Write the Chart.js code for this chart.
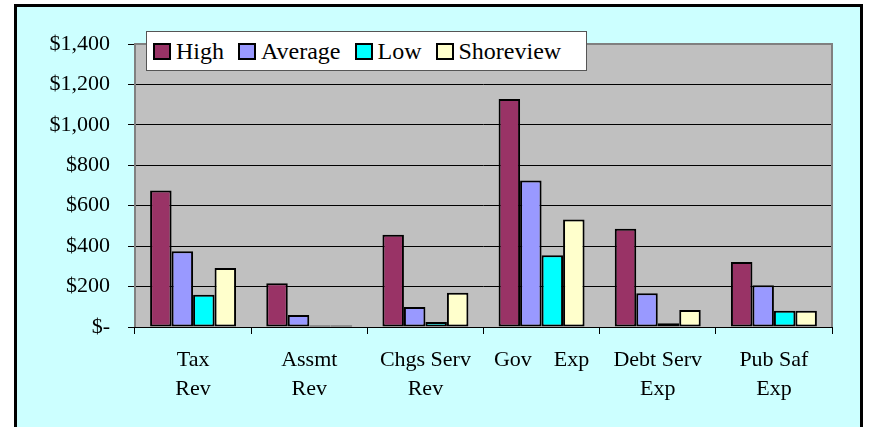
<!DOCTYPE html>
<html>
<head>
<meta charset="utf-8">
<script src="https://cdn.jsdelivr.net/npm/chart.js@4/dist/chart.umd.min.js"></script>
<style>
    html, body { margin: 0; padding: 0; background: #fff; overflow: hidden; width: 871px; height: 427px; }
    #frame { position: absolute; left: 14px; top: 4px; width: 843px; height: 440px; border: 3px solid #000; background: #CCFFFF; }
    #wrap { position: absolute; left: 0; top: 0; width: 871px; height: 427px; }
    #legend { position: absolute; left: 146px; top: 31px; width: 433px; height: 38px; background: #fff; border: 1px solid #555;
              display: flex; align-items: center; font-family: 'Times New Roman', 'Liberation Serif', serif; font-size: 24px; color: #000; padding-left: 6px; box-sizing: content-box; }
    .item { display: flex; align-items: center; margin-right: 14px; }
    .box { width: 14px; height: 13px; border: 2px solid #000; margin-right: 5px; }
</style>
</head>
<body>
<div id="frame"></div>
<div id="wrap"><canvas id="chart"></canvas></div>
<div id="legend"></div>
<script>
// values
const categories = [['Tax', 'Rev'], ['Assmt', 'Rev'], ['Chgs Serv', 'Rev'], ['Gov    Exp'], ['Debt Serv', 'Exp'], ['Pub Saf', 'Exp']];
const seriesNames = ['High', 'Average', 'Low', 'Shoreview'];
const seriesColors = ['#993366', '#9999FF', '#00FFFF', '#FFFFCC'];
const high = [675, 216, 456, 1128, 486, 321];
const average = [375, 59, 99, 725, 167, 206];
const low = [160, 8, 25, 355, 18, 81];
const shoreview = [292, 8, 170, 532, 84, 81];
const yTickLabels = ['$-', '$200', '$400', '$600', '$800', '$1,000', '$1,200', '$1,400'];

const seriesValues = [high, average, low, shoreview];
const FONT = "'Times New Roman', 'Liberation Serif', serif";

// legend drawn as html so it can sit over the plot area
const legendEl = document.getElementById('legend');
seriesNames.forEach((name, i) => {
    const item = document.createElement('div');
    item.className = 'item';
    const box = document.createElement('span');
    box.className = 'box';
    box.style.background = seriesColors[i];
    item.appendChild(box);
    item.appendChild(document.createTextNode(name));
    legendEl.appendChild(item);
});

const plotArea = {
    id: 'plotArea',
    beforeDraw(chart) {
        const { ctx, chartArea: a } = chart;
        ctx.save();
        ctx.fillStyle = '#C0C0C0';
        ctx.fillRect(a.left, a.top, a.right - a.left, a.bottom - a.top);
        ctx.restore();
    },
    beforeDatasetsDraw(chart) {
        const { ctx, chartArea: a } = chart;
        ctx.save();
        ctx.strokeStyle = '#808080';
        ctx.lineWidth = 2;
        ctx.beginPath();
        ctx.moveTo(a.left, a.bottom);
        ctx.lineTo(a.left, a.top);
        ctx.lineTo(a.right, a.top);
        ctx.lineTo(a.right, a.bottom);
        ctx.stroke();
        ctx.restore();
    }
};

new Chart(document.getElementById('chart'), {
    type: 'bar',
    data: {
        labels: categories,
        datasets: seriesNames.map((name, i) => ({
            label: name,
            data: seriesValues[i],
            backgroundColor: seriesColors[i],
            borderColor: '#000',
            borderWidth: 2,
            borderSkipped: false,
            categoryPercentage: 0.74,
            barPercentage: 1.0
        }))
    },
    options: {
        responsive: true,
        maintainAspectRatio: false,
        animation: false,
        layout: { padding: { left: 0, top: 44, right: 39, bottom: 0 } },
        plugins: {
            legend: { display: false },
            tooltip: { enabled: false }
        },
        scales: {
            y: {
                min: 0,
                max: 1400,
                afterFit(scale) { scale.width = 135; },
                ticks: {
                    stepSize: 200,
                    color: '#000',
                    padding: 18,
                    font: { family: FONT, size: 22 },
                    callback: (value) => yTickLabels[Math.round(value / 200)]
                },
                grid: {
                    color: (c) => (c.tick && c.tick.value === 1400) ? '#808080' : '#000',
                    tickColor: '#000',
                    tickLength: 7,
                    lineWidth: 1
                },
                border: { display: false }
            },
            x: {
                afterFit(scale) { scale.height = 100; },
                ticks: {
                    color: '#000',
                    padding: 12,
                    maxRotation: 0,
                    autoSkip: false,
                    font: { family: FONT, size: 22, lineHeight: 1.3 }
                },
                grid: {
                    drawOnChartArea: false,
                    tickColor: '#000',
                    tickLength: 7,
                    offset: true
                },
                border: { display: true, color: '#000', width: 1 }
            }
        }
    },
    plugins: [plotArea]
});
</script>
</body>
</html>
